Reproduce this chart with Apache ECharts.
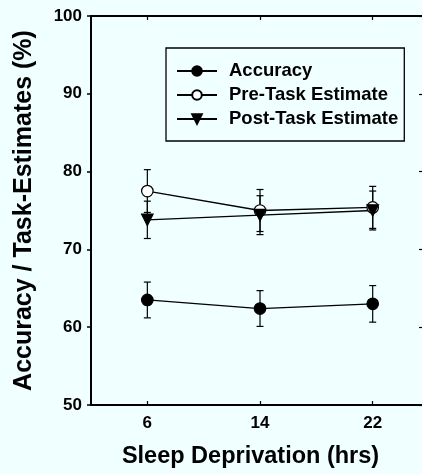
<!DOCTYPE html>
<html>
<head>
<meta charset="utf-8">
<script src="https://cdn.jsdelivr.net/npm/echarts@6/dist/echarts.min.js"></script>
<style>
html,body{margin:0;padding:0;background:#f0ffff;}
#c{width:422px;height:474px;}
</style>
</head>
<body>
<div id="c"></div>
<script>
var hours = [6, 14, 22];
var yTicks = [50, 60, 70, 80, 90, 100];
var accuracy = [63.5, 62.4, 63.0];
var accuracyErr = [2.3, 2.3, 2.35];
var preTask = [77.5, 75.0, 75.4];
var preTaskErr = [2.75, 2.7, 2.7];
var postTask = [73.8, 74.4, 75.0];
var postTaskErr = [2.4, 2.5, 2.5];
var seriesNames = ['Accuracy', 'Pre-Task Estimate', 'Post-Task Estimate'];

var FONT = 'Liberation Sans, Arial, sans-serif';
var triDown = 'path://M0,0 L10,0 L5,10 Z';

function pairs(vals) { return hours.map(function (h, i) { return [h, vals[i]]; }); }
function errData(vals, errs) { return hours.map(function (h, i) { return [h, vals[i] - errs[i], vals[i] + errs[i]]; }); }

function errSeries(vals, errs) {
  return {
    type: 'custom',
    data: errData(vals, errs),
    z: 1,
    silent: true,
    renderItem: function (params, api) {
      var x = api.value(0);
      var lo = api.coord([x, api.value(1)]);
      var hi = api.coord([x, api.value(2)]);
      var w = 3.5;
      var st = { stroke: '#000', lineWidth: 1.2 };
      return {
        type: 'group',
        children: [
          { type: 'line', shape: { x1: lo[0], y1: lo[1], x2: hi[0], y2: hi[1] }, style: st },
          { type: 'line', shape: { x1: lo[0] - w, y1: lo[1], x2: lo[0] + w, y2: lo[1] }, style: st },
          { type: 'line', shape: { x1: hi[0] - w, y1: hi[1], x2: hi[0] + w, y2: hi[1] }, style: st }
        ]
      };
    }
  };
}

function lineSeries(name, vals, symbol, fill) {
  return {
    name: name,
    type: 'line',
    data: pairs(vals),
    symbol: symbol,
    symbolSize: 11.5,
    z: 3,
    lineStyle: { color: '#000', width: 1.3 },
    itemStyle: { color: fill, borderColor: '#000', borderWidth: 1.2 }
  };
}

var chart = echarts.init(document.getElementById('c'));
chart.setOption({
  backgroundColor: '#f0ffff',
  animation: false,
  grid: { left: 91, right: 0, top: 16, bottom: 63 },
  xAxis: [{
    type: 'value', min: 2, max: 25.5,
    name: 'Sleep Deprivation (hrs)', nameLocation: 'middle', nameGap: 40,
    nameTextStyle: { fontFamily: FONT, fontWeight: 'bold', fontSize: 23.5, color: '#000', padding: [0, 12, 0, 0] },
    axisLine: { show: true, lineStyle: { color: '#000', width: 2 } },
    axisTick: { show: true, inside: true, length: 4, customValues: hours, lineStyle: { color: '#000', width: 1.2 } },
    axisLabel: { customValues: hours, fontFamily: FONT, fontWeight: 'bold', fontSize: 17, color: '#000', margin: 10 },
    splitLine: { show: false }
  }, {
    type: 'value', min: 2, max: 25.5, position: 'top',
    axisLine: { show: true, lineStyle: { color: '#000', width: 2 } },
    axisTick: { show: true, inside: true, length: 4, customValues: hours, lineStyle: { color: '#000', width: 1.2 } },
    axisLabel: { show: false },
    splitLine: { show: false }
  }],
  yAxis: [{
    type: 'value', min: 50, max: 100, interval: 10,
    name: 'Accuracy / Task-Estimates (%)', nameLocation: 'middle', nameGap: 54, nameRotate: 90,
    nameTextStyle: { fontFamily: FONT, fontWeight: 'bold', fontSize: 25, color: '#000' },
    axisLine: { show: true, lineStyle: { color: '#000', width: 2 } },
    axisTick: { show: true, inside: false, length: 4, lineStyle: { color: '#000', width: 1.5 } },
    axisLabel: { fontFamily: FONT, fontWeight: 'bold', fontSize: 17, color: '#000', margin: 9 },
    splitLine: { show: false }
  }, {
    type: 'value', min: 50, max: 100, interval: 10, position: 'right',
    axisLine: { show: false },
    axisTick: { show: true, inside: true, length: 3, lineStyle: { color: '#000', width: 1.2 } },
    axisLabel: { show: false },
    splitLine: { show: false }
  }],
  legend: {
    data: seriesNames,
    orient: 'vertical',
    left: 166, top: 48,
    padding: [13, 6, 12, 10],
    borderColor: '#000', borderWidth: 1.3,
    itemWidth: 40, itemHeight: 12, itemGap: 4,
    textStyle: { fontFamily: FONT, fontWeight: 'bold', fontSize: 18.5, color: '#000', lineHeight: 20, padding: [0, 0, 0, 7] }
  },
  series: [
    errSeries(accuracy, accuracyErr),
    errSeries(preTask, preTaskErr),
    errSeries(postTask, postTaskErr),
    lineSeries(seriesNames[0], accuracy, 'circle', '#000'),
    lineSeries(seriesNames[1], preTask, 'circle', '#fff'),
    lineSeries(seriesNames[2], postTask, triDown, '#000')
  ]
});
</script>
</body>
</html>
